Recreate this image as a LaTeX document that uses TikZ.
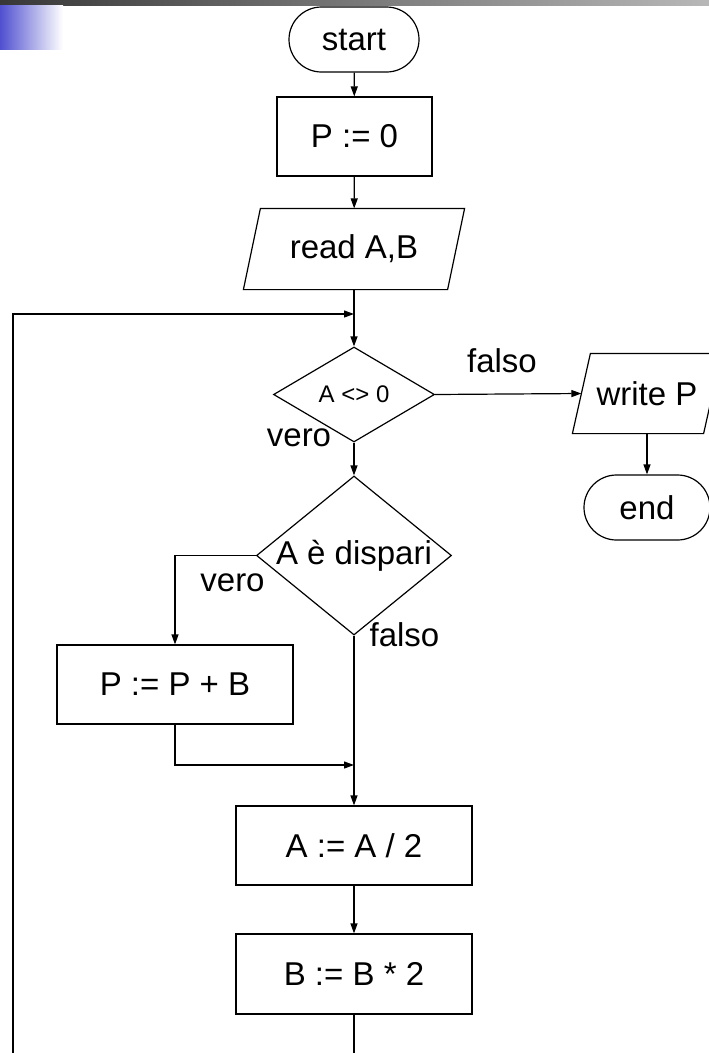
\documentclass[tikz,border=0pt]{standalone}
\usepackage{fontspec}
\setmainfont{Liberation Sans}
\usetikzlibrary{shapes.geometric,shapes.misc,arrows.meta}
\tikzset{
  base/.style={draw, line width=1.2pt, inner sep=0pt, font=\fontsize{33}{39}\selectfont},
  procbox/.style={base, rectangle, minimum width=236pt, minimum height=79pt},
  term/.style={base, rounded rectangle, minimum width=130pt, minimum height=65pt},
  iobox/.style={base, draw=none, rectangle, minimum height=79pt},
  decis/.style={base, diamond},
  conn/.style={line width=1.2pt, -{Triangle[length=10pt,width=7pt]}},
  plain/.style={line width=1.2pt},
  lbl/.style={font=\fontsize{33}{39}\selectfont, anchor=base, inner sep=0pt},
}
\begin{document}
\begin{tikzpicture}[x=1pt,y=-1pt]
\useasboundingbox (0,0) rectangle (709,1053);
\begin{scope}
\clip (0,0) rectangle (709,1053);
% header decoration
\shade[left color=black!78, right color=black!28] (0,0) rectangle (709,5);
\shade[left color={rgb,255:red,80;green,80;blue,208}, right color=white] (0,5) rectangle (63,49);

% nodes
\node[term] (start) at (354,39.5) {start};
\node[procbox, minimum width=155pt] (p0) at (354.5,136.5) {P := 0};
\node[iobox, minimum width=203pt, minimum height=80pt] (rd) at (354,249) {read A,B};
\draw[plain] ([xshift=8.5pt]rd.north west) -- ([xshift=8.5pt]rd.north east)
  -- ([xshift=-8.5pt]rd.south east) -- ([xshift=-8.5pt]rd.south west) -- cycle;
\node[decis, minimum width=161pt, minimum height=95pt, font=\fontsize{24}{29}\selectfont] (d1) at (354,394.5) {A <> 0};
\node[iobox, minimum width=130pt] (wr) at (647,393.5) {write P};
\draw[plain] ([xshift=9pt]wr.north west) -- ([xshift=9pt]wr.north east)
  -- ([xshift=-9pt]wr.south east) -- ([xshift=-9pt]wr.south west) -- cycle;
\node[term, minimum width=126pt] (end) at (647,507.5) {end};
\node[decis, minimum width=195pt, minimum height=159pt,
  label={[font=\fontsize{33}{39}\selectfont, inner sep=0pt]center:A è dispari}] (d2) at (354,555.5) {};
\node[procbox] (ppb) at (175,684.5) {P := P + B};
\node[procbox] (a2) at (354,845.5) {A := A / 2};
\node[procbox, minimum height=80pt] (b2) at (354,974) {B := B * 2};

% junction coordinates
\coordinate (j1) at (354,314);
\coordinate (loopbot) at (13,1060);
\coordinate (j2) at (354,765);
\coordinate (mainbot) at (354,1060);

% connectors
\draw[conn] (start) -- (p0);
\draw[conn] (p0) -- (rd);
\draw[conn] (rd.south) -- (d1.north);
\draw[conn] (loopbot) |- (j1);
\draw[conn] (d1.east) -- (wr.west);
\draw[conn] (wr.south) -- (end.north);
\draw[conn] (d1.south) -- (d2.north);
\draw[conn] (d2.west) -| (ppb.north);
\draw[conn] (d2.south) -- (a2.north);
\draw[conn] (ppb.south) |- (j2);
\draw[conn] (a2.south) -- (b2.north);
\draw[plain] (b2.south) -- (mainbot);

% labels
\node[lbl] (lf1) at (502,372) {falso};
\node[lbl] (lv1) at (299,446) {vero};
\node[lbl] (lv2) at (232.5,591) {vero};
\node[lbl] (lf2) at (404.5,646) {falso};
\end{scope}
\end{tikzpicture}
\end{document}
